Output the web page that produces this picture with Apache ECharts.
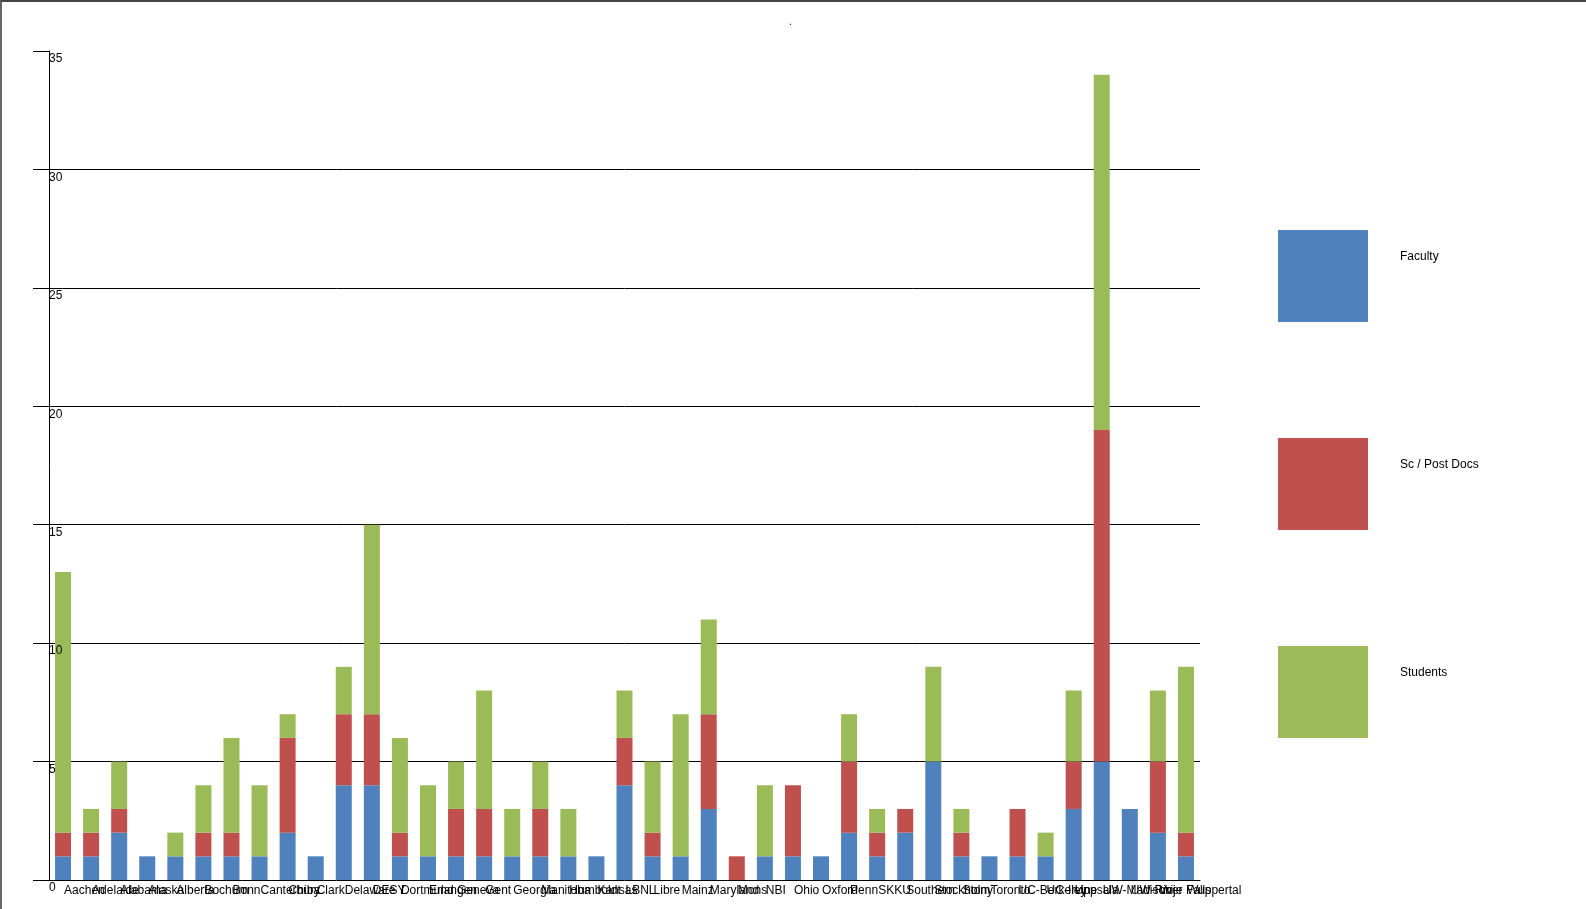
<!DOCTYPE html>
<html>
<head>
<meta charset="utf-8">
<script src="https://cdn.jsdelivr.net/npm/echarts@6/dist/echarts.min.js"></script>
<style>
html,body{margin:0;padding:0;background:#fff;}
#wrap{width:1586px;height:909px;box-sizing:border-box;border-top:2px solid #444;border-left:2px solid #666;position:relative;}
#chart{position:absolute;left:-2px;top:-2px;width:1586px;height:909px;}
</style>
</head>
<body>
<div id="wrap"><div id="chart"></div></div>
<script>
const categories = ["Aachen","Adelaide","Alabama","Alaska","Alberta","Bochum","Bonn","Canterbury","Chiba","Clark","Delaware","DESY","Dortmund","Erlangen","Geneva","Gent","Georgia","Manitoba","Humboldt","Kansas","LBNL","Libre","Mainz","Maryland","Mons","NBI","Ohio","Oxford","Penn","SKKU","Southern","Stockholm","Stony","Toronto","UC-Berkeley","UC-Irvine","Uppsala","UW-Madison","UW-River Falls","Vrije","Wuppertal"];
const faculty    = [1,1,2,1,1,1,1,1,2,1,4,4,1,1,1,1,1,1,1,1,4,1,1,3,0,1,1,1,2,1,2,5,1,1,1,1,3,5,3,2,1];
const scPostDocs = [1,1,1,0,0,1,1,0,4,0,3,3,1,0,2,2,0,2,0,0,2,1,0,4,1,0,3,0,3,1,1,0,1,0,2,0,2,14,0,3,1];
const students   = [11,1,2,0,1,2,4,3,1,0,2,8,4,3,2,5,2,2,2,0,2,3,6,4,0,3,0,0,2,1,0,4,1,0,0,1,3,15,0,3,7];
const seriesNames = ["Faculty","Sc / Post Docs","Students"];
const colors = ["#4F81BD","#C0504D","#9BBB59"];
const yTicks = {min:0, max:35, interval:5};

const FONT = "'Liberation Sans', Arial, sans-serif";
const chart = echarts.init(document.getElementById('chart'), null, {renderer:'canvas'});
const mk = (name, data, color) => ({
  name, type:'bar', stack:'total', data, barWidth:16, yAxisIndex:0,
  itemStyle:{color}, emphasis:{disabled:true}
});
chart.setOption({
  animation:false,
  textStyle:{fontFamily:FONT},
  title:{text:'.', left:784, top:12, textStyle:{fontSize:10, fontWeight:'normal', color:'#000', fontFamily:FONT}},
  grid:{left:49, right:386, top:51, bottom:29, containLabel:false},
  legend:{
    orient:'vertical', left:1273, top:225, itemWidth:90, itemHeight:92, itemGap:116,
    icon:'rect', data:seriesNames,
    formatter: n => n + '\n ',
    textStyle:{fontSize:12, color:'#000', fontFamily:FONT, lineHeight:39, padding:[0,0,0,27]}
  },
  xAxis:{
    type:'category', data:categories,
    axisLine:{lineStyle:{color:'#000', width:1}},
    axisTick:{alignWithLabel:true, length:19, interval:0, lineStyle:{color:'#000'}},
    axisLabel:{interval:0, align:'left', margin:5, color:'#000', fontSize:12, fontFamily:FONT, padding:[0,0,0,1]},
    splitLine:{show:false}
  },
  yAxis:[{
    type:'value', min:yTicks.min, max:yTicks.max, interval:yTicks.interval,
    axisLine:{show:true, lineStyle:{color:'#000', width:1}},
    axisTick:{show:true, length:16, lineStyle:{color:'#000'}},
    axisLabel:{show:false},
    splitLine:{show:true, showMinLine:false, showMaxLine:false, lineStyle:{color:'#000', width:1}}
  },{
    type:'value', min:yTicks.min, max:yTicks.max, interval:yTicks.interval, position:'left', z:5,
    axisLine:{show:false}, axisTick:{show:false}, splitLine:{show:false},
    axisLabel:{inside:true, margin:0, verticalAlign:'top', color:'#000', fontSize:12, fontFamily:FONT, padding:[2,0,0,0]}
  }],
  series:[
    mk(seriesNames[0], faculty, colors[0]),
    mk(seriesNames[1], scPostDocs, colors[1]),
    mk(seriesNames[2], students, colors[2])
  ]
});
</script>
</body>
</html>
